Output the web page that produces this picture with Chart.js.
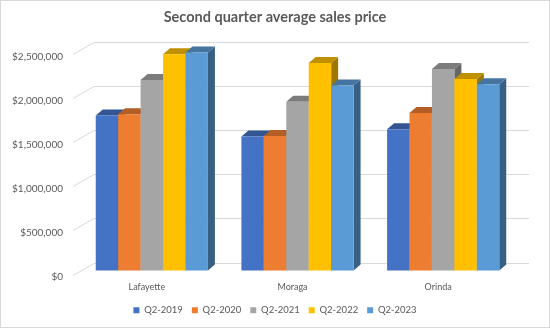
<!DOCTYPE html>
<html>
<head>
<meta charset="utf-8">
<script src="https://cdn.jsdelivr.net/npm/chart.js@4/dist/chart.umd.min.js"></script>
<style>
  html, body { margin: 0; padding: 0; background: #fff; }
  #wrap { width: 550px; height: 328px; }
</style>
</head>
<body>
<div id="wrap"><canvas id="chart" width="550" height="328"></canvas></div>
<script>
// Second quarter average sales price — 3D clustered columns

var towns = ['Lafayette', 'Moraga', 'Orinda'];
var seriesNames = ['Q2-2019', 'Q2-2020', 'Q2-2021', 'Q2-2022', 'Q2-2023'];
var q2019 = [1760000, 1521000, 1603000];
var q2020 = [1775000, 1528000, 1790000];
var q2021 = [2165000, 1917000, 2290000];
var q2022 = [2455000, 2358000, 2175000];
var q2023 = [2475000, 2100000, 2115000];
var yTicks = [0, 500000, 1000000, 1500000, 2000000, 2500000];

var COLORS = ['#4472C4', '#ED7D31', '#A5A5A5', '#FFC000', '#5B9BD5'];
var FONT = "Lato, 'Open Sans', sans-serif";
var TEXT = '#595959';
var GRID = '#d9d9d9';

// bar depth on screen and back wall offset
var BAR_DX = 7, BAR_DY = 6;
var WALL_DX = 15, WALL_DY = 8;

function shade(hex, f) {
  var n = parseInt(hex.slice(1), 16);
  var r = Math.round(((n >> 16) & 255) * f);
  var g = Math.round(((n >> 8) & 255) * f);
  var b = Math.round((n & 255) * f);
  return 'rgb(' + r + ',' + g + ',' + b + ')';
}

function formatDollars(v) {
  return '$' + v.toLocaleString('en-US');
}

function drawBar3d(ctx, bar, color) {
  var p = bar.getProps(['x', 'y', 'base', 'width'], true);
  var l = p.x - p.width / 2, r = p.x + p.width / 2;
  // side face
  ctx.fillStyle = shade(color, 0.62);
  ctx.beginPath();
  ctx.moveTo(r, p.y);
  ctx.lineTo(r + BAR_DX, p.y - BAR_DY);
  ctx.lineTo(r + BAR_DX, p.base - BAR_DY);
  ctx.lineTo(r, p.base);
  ctx.closePath();
  ctx.fill();
  // top face
  ctx.fillStyle = shade(color, 0.75);
  ctx.beginPath();
  ctx.moveTo(l, p.y);
  ctx.lineTo(l + BAR_DX, p.y - BAR_DY);
  ctx.lineTo(r + BAR_DX, p.y - BAR_DY);
  ctx.lineTo(r, p.y);
  ctx.closePath();
  ctx.fill();
}

var wallPlugin = {
  id: 'wall',
  beforeDatasetsDraw: function (chart) {
    var ctx = chart.ctx, y = chart.scales.y, area = chart.chartArea;
    ctx.save();
    ctx.strokeStyle = GRID;
    ctx.lineWidth = 1;
    yTicks.forEach(function (v) {
      var py = Math.round(y.getPixelForValue(v)) + 0.5;
      ctx.beginPath();
      ctx.moveTo(area.left - 6, py + 4);
      ctx.lineTo(area.left + WALL_DX, py - WALL_DY);
      ctx.lineTo(area.right + 13, py - WALL_DY);
      ctx.stroke();
    });
    ctx.restore();
  },
  // Chart.js paints datasets last-to-first; skip that and paint left-to-right below
  beforeDatasetDraw: function () { return false; },
  afterDatasetsDraw: function (chart) {
    var ctx = chart.ctx;
    ctx.save();
    for (var i = 0; i < chart.data.datasets.length; i++) {
      var meta = chart.getDatasetMeta(i);
      meta.data.forEach(function (bar) {
        drawBar3d(ctx, bar, COLORS[i]);
        bar.draw(ctx, chart.chartArea);
      });
    }
    ctx.restore();
  },
  afterDraw: function (chart) {
    var ctx = chart.ctx;
    ctx.save();
    ctx.strokeStyle = GRID;
    ctx.lineWidth = 1;
    ctx.strokeRect(0.5, 0.5, chart.width - 1, chart.height - 1);
    ctx.restore();
  }
};

var allSeries = [q2019, q2020, q2021, q2022, q2023];
var datasets = allSeries.map(function (vals, i) {
  return {
    label: seriesNames[i],
    data: vals,
    backgroundColor: COLORS[i],
    borderWidth: 0,
    categoryPercentage: 0.77,
    barPercentage: 1.0
  };
});

new Chart(document.getElementById('chart'), {
  type: 'bar',
  data: { labels: towns, datasets: datasets },
  plugins: [wallPlugin],
  options: {
    responsive: false,
    animation: false,
    layout: { padding: { left: 0, right: 0, top: 0, bottom: 3 } },
    plugins: {
      title: {
        display: true,
        text: 'Second quarter average sales price',
        color: TEXT,
        font: { family: FONT, size: 14.5, weight: 'bold' },
        padding: { top: 9, bottom: 24 }
      },
      legend: {
        display: true,
        position: 'bottom',
        labels: {
          color: TEXT,
          font: { family: FONT, size: 9.5 },
          boxWidth: 6,
          boxHeight: 6,
          padding: 9
        }
      },
      tooltip: { enabled: false }
    },
    scales: {
      x: {
        grid: { display: false, drawTicks: false },
        border: { display: false },
        ticks: { color: TEXT, font: { family: FONT, size: 9 }, padding: 11, labelOffset: -5 },
        afterFit: function (s) { s.height = 26; }
      },
      y: {
        min: 0,
        max: 2500000,
        grid: { display: false, drawTicks: false },
        border: { display: false },
        afterBuildTicks: function (s) {
          s.ticks = yTicks.map(function (v) { return { value: v }; });
        },
        ticks: {
          color: TEXT,
          font: { family: FONT, size: 10 },
          padding: 16,
          labelOffset: 6,
          callback: function (v) { return formatDollars(v); }
        },
        afterFit: function (s) { s.width = 79; }
      },
      // empty right-hand strip that holds the back wall's overhang
      yRight: {
        position: 'right',
        min: 0,
        max: 2500000,
        grid: { display: false, drawTicks: false },
        border: { display: false },
        ticks: { display: false },
        afterFit: function (s) { s.width = 34; }
      }
    }
  }
});
</script>
</body>
</html>
